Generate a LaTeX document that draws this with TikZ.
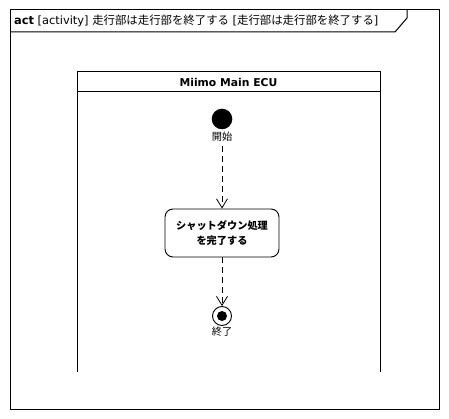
\documentclass[tikz,border=0pt]{standalone}
\usepackage{fontspec}
\setmainfont{DejaVu Sans}
\newfontfamily\jp{Noto Sans CJK JP}
\usetikzlibrary{arrows.meta}
\begin{document}
\begin{tikzpicture}[x=1pt,y=-1pt,
  frameline/.style={draw=black,line width=1pt},
  flow/.style={draw=black,line width=0.8pt,dash pattern=on 6pt off 4pt,-{Straight Barb[length=9pt,width=11pt,line width=0.8pt]}},
  lbl/.style={font=\jp\fontsize{10.2}{11}\selectfont,inner sep=0pt,anchor=center},
  actbox/.style={draw=black,line width=0.9pt,rounded corners=8pt,minimum width=114pt,minimum height=48pt,align=center,font=\jp\bfseries\fontsize{10.2}{15.7}\selectfont,inner sep=0pt}
]
\useasboundingbox (0,0) rectangle (449,419);
% frame
\draw[frameline] (10,10) rectangle (439,409);
\draw[frameline] (10,32) -- (395,32) -- (407,18) -- (407,10);
\node[anchor=west,inner sep=0pt,font=\fontsize{11.4}{12}\selectfont] (title) at (14,21)
  {\textbf{act} [activity] {\jp 走行部は走行部を終了する} [{\jp 走行部は走行部を終了する}]};
% lane
\draw[frameline] (77,372) -- (77,72) -- (380,72) -- (380,372);
\draw[frameline] (77,92) -- (380,92);
\node[font=\bfseries\fontsize{10.8}{12}\selectfont,inner sep=0pt] (lane) at (228.5,82) {Miimo Main ECU};
% nodes
\node[circle,fill=black,minimum size=20.6pt,inner sep=0pt] (start) at (222,119) {};
\node[lbl] (startlbl) at (222,137) {開始};
\coordinate (startout) at (222,146);
\node[actbox] (act) at (222,233) {シャットダウン処理\\を完了する};
\node[circle,draw=black,line width=0.9pt,fill=white,minimum size=19pt,inner sep=0pt] (final) at (222,316) {};
\node[circle,fill=black,minimum size=10pt,inner sep=0pt] (finalin) at (final.center) {};
\node[lbl] (finallbl) at (222,332) {終了};
% flows
\draw[flow] (startout) -- (act.north);
\draw[flow] (act.south) -- (final.north);
\end{tikzpicture}
\end{document}
